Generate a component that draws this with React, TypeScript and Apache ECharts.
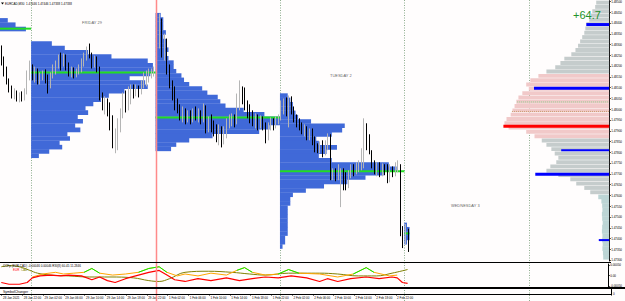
import React, { useEffect, useRef } from "react";
import * as echarts from "echarts";

const W = 625;
const H = 301;
const SLOTS = 235;
const ROW = 0.0002;
const LABEL_STEP = 8;
const BARS_PER_DAY = 48;

// [open, close, low, high]
const thursdayBars = [
  [1.48273, 1.48226, 1.48203, 1.48296], [1.48226, 1.48171, 1.48152, 1.48245], [1.48171, 1.48134, 1.48115, 1.48198],
  [1.48134, 1.48097, 1.48078, 1.48143], [1.48097, 1.48069, 1.4805, 1.4811], [1.48069, 1.48078, 1.48046, 1.48097],
  [1.48078, 1.48055, 1.48036, 1.48087], [1.48055, 1.48064, 1.48032, 1.48078], [1.48064, 1.4805, 1.48036, 1.48083],
  [1.4805, 1.48078, 1.48041, 1.48097], [1.48078, 1.48157, 1.48069, 1.4818], [1.48157, 1.48203, 1.48134, 1.48226],
];
const fridayBars = [
  [1.48189, 1.48161, 1.48134, 1.48208], [1.48161, 1.4818, 1.48124, 1.48198], [1.4818, 1.48134, 1.48115, 1.48189],
  [1.48134, 1.48152, 1.48115, 1.48171], [1.48152, 1.48171, 1.48134, 1.4818], [1.48171, 1.48143, 1.4812, 1.48185],
  [1.48143, 1.48124, 1.48073, 1.48161], [1.48124, 1.48161, 1.48097, 1.48171], [1.48161, 1.48189, 1.48143, 1.48208],
  [1.48189, 1.48208, 1.48161, 1.48226], [1.48208, 1.48236, 1.48189, 1.48254], [1.48236, 1.48217, 1.4818, 1.48263],
  [1.48217, 1.48245, 1.48198, 1.48259], [1.48245, 1.48198, 1.4818, 1.48254], [1.48198, 1.48171, 1.48152, 1.48217],
  [1.48171, 1.4818, 1.48148, 1.48198], [1.4818, 1.48161, 1.48143, 1.48194], [1.48161, 1.4818, 1.48148, 1.48189],
  [1.4818, 1.48189, 1.48161, 1.48208], [1.48189, 1.48217, 1.48171, 1.48236], [1.48217, 1.48245, 1.48198, 1.48263],
  [1.48245, 1.48273, 1.48226, 1.48291], [1.48273, 1.48254, 1.48236, 1.48305], [1.48254, 1.48208, 1.48189, 1.48263],
  [1.48208, 1.48236, 1.48194, 1.48249], [1.48236, 1.48189, 1.48171, 1.48245], [1.48189, 1.4806, 1.48041, 1.48198],
  [1.4806, 1.48023, 1.47995, 1.48078], [1.48023, 1.48041, 1.47976, 1.4806], [1.48041, 1.48004, 1.47967, 1.4805],
  [1.48004, 1.47958, 1.47902, 1.48032], [1.47958, 1.47856, 1.47819, 1.47972], [1.47856, 1.47893, 1.47796, 1.47911],
  [1.47893, 1.4793, 1.4781, 1.47958], [1.4793, 1.47985, 1.47893, 1.48004], [1.47985, 1.48041, 1.47958, 1.48078],
  [1.48041, 1.48023, 1.47985, 1.48087], [1.48023, 1.4806, 1.47995, 1.48106], [1.4806, 1.48078, 1.48023, 1.48115],
  [1.48078, 1.48069, 1.4805, 1.48115], [1.48069, 1.48097, 1.4806, 1.48115], [1.48097, 1.48078, 1.48055, 1.4811],
  [1.48078, 1.48115, 1.48069, 1.48134], [1.48115, 1.48134, 1.48097, 1.48171], [1.48134, 1.48143, 1.48106, 1.4818],
  [1.48143, 1.48161, 1.48124, 1.48189], [1.48161, 1.48171, 1.48143, 1.48189], [1.48171, 1.4818, 1.48152, 1.48198],
];
const mondayBars = [
  [1.48365, 1.48282, 1.48263, 1.48384], [1.48291, 1.48402, 1.48282, 1.48444], [1.48402, 1.48273, 1.4824, 1.48421],
  [1.48273, 1.48319, 1.48226, 1.48351], [1.48319, 1.4818, 1.48161, 1.48328], [1.4818, 1.48115, 1.48097, 1.48208],
  [1.48115, 1.48087, 1.48041, 1.48134], [1.48087, 1.48023, 1.47995, 1.48106], [1.48023, 1.48004, 1.47981, 1.4805],
  [1.48004, 1.47976, 1.47948, 1.48023], [1.47976, 1.47995, 1.47939, 1.48013], [1.47995, 1.47958, 1.4793, 1.48004],
  [1.47958, 1.47976, 1.47939, 1.47995], [1.47976, 1.47958, 1.4793, 1.47995], [1.47958, 1.47985, 1.47939, 1.48004],
  [1.47985, 1.47967, 1.47948, 1.48013], [1.47967, 1.47985, 1.47939, 1.48004], [1.47985, 1.47958, 1.4793, 1.47995],
  [1.47958, 1.48004, 1.47939, 1.48027], [1.48004, 1.47911, 1.47888, 1.48018], [1.47911, 1.47939, 1.47893, 1.47967],
  [1.47939, 1.47921, 1.47893, 1.47976], [1.47921, 1.47902, 1.47874, 1.47948], [1.47902, 1.47874, 1.47847, 1.4793],
  [1.47874, 1.47911, 1.47833, 1.4793], [1.47911, 1.47856, 1.47823, 1.47921], [1.47856, 1.47893, 1.47837, 1.47921],
  [1.47893, 1.4793, 1.47865, 1.47958], [1.4793, 1.47939, 1.47911, 1.47976], [1.47939, 1.47958, 1.47921, 1.47981],
  [1.47958, 1.47939, 1.47916, 1.47976], [1.47939, 1.48023, 1.4793, 1.48073], [1.48023, 1.48087, 1.47995, 1.48134],
  [1.48087, 1.4806, 1.48023, 1.48106], [1.4806, 1.48013, 1.47995, 1.48101], [1.48013, 1.47985, 1.47958, 1.48041],
  [1.47985, 1.47967, 1.47935, 1.48023], [1.47967, 1.47948, 1.47921, 1.47995], [1.47948, 1.47958, 1.47911, 1.47981],
  [1.47958, 1.4793, 1.47902, 1.47976], [1.4793, 1.47948, 1.47911, 1.47972], [1.47948, 1.47921, 1.47902, 1.47967],
  [1.47921, 1.47874, 1.47842, 1.47939], [1.47874, 1.47921, 1.47856, 1.47939], [1.47921, 1.47939, 1.47902, 1.47962],
  [1.47939, 1.47921, 1.47902, 1.47958], [1.47921, 1.47948, 1.47911, 1.47967], [1.47948, 1.47958, 1.4793, 1.47976],
];
const tuesdayBars = [
  [1.47958, 1.48004, 1.47948, 1.48041], [1.48004, 1.48023, 1.47976, 1.4805], [1.48023, 1.47985, 1.47967, 1.48055],
  [1.47985, 1.48041, 1.47916, 1.48064], [1.48041, 1.47995, 1.47976, 1.4806], [1.47995, 1.47958, 1.47939, 1.48013],
  [1.47958, 1.47939, 1.47916, 1.47976], [1.47939, 1.47921, 1.47902, 1.47958], [1.47921, 1.47902, 1.47884, 1.47939],
  [1.47902, 1.47911, 1.47874, 1.4793], [1.47911, 1.47884, 1.47856, 1.47921], [1.47884, 1.47893, 1.47856, 1.47911],
  [1.47893, 1.47856, 1.47833, 1.47911], [1.47856, 1.47828, 1.478, 1.47874], [1.47828, 1.4781, 1.47796, 1.47842],
  [1.4781, 1.47828, 1.47796, 1.47851], [1.47828, 1.478, 1.47777, 1.47856], [1.478, 1.47833, 1.47786, 1.47856],
  [1.47833, 1.47856, 1.4781, 1.47888], [1.47856, 1.47689, 1.47671, 1.47884], [1.47689, 1.47708, 1.47671, 1.47726],
  [1.47708, 1.47689, 1.47666, 1.47726], [1.47689, 1.47708, 1.47671, 1.47745], [1.47671, 1.47708, 1.47546, 1.47726],
  [1.47708, 1.4768, 1.47624, 1.47726], [1.4768, 1.47652, 1.47624, 1.47708], [1.47652, 1.47689, 1.47634, 1.47717],
  [1.47689, 1.47717, 1.4768, 1.47745], [1.47717, 1.47708, 1.47689, 1.47745], [1.47708, 1.47726, 1.47698, 1.47754],
  [1.47726, 1.47735, 1.47708, 1.47763], [1.47735, 1.4781, 1.47717, 1.47819], [1.4781, 1.47902, 1.47726, 1.47958],
  [1.47902, 1.47856, 1.4781, 1.47935], [1.47856, 1.478, 1.47791, 1.47884], [1.478, 1.47735, 1.47726, 1.4781],
  [1.47735, 1.47717, 1.47698, 1.47763], [1.47717, 1.47735, 1.47689, 1.47754], [1.47735, 1.47708, 1.47685, 1.47754],
  [1.47708, 1.47726, 1.47689, 1.47749], [1.47726, 1.47717, 1.47694, 1.47745], [1.47717, 1.4768, 1.47657, 1.47745],
  [1.4768, 1.47717, 1.47661, 1.47745], [1.47717, 1.47708, 1.47685, 1.47735], [1.47708, 1.47726, 1.47689, 1.47754],
  [1.47726, 1.47735, 1.47708, 1.47763], [1.47735, 1.4743, 1.47411, 1.47745], [1.4743, 1.47411, 1.47356, 1.47458],
];
const wednesdayBars = [
  [1.47411, 1.47439, 1.47374, 1.47467], [1.47446, 1.47338, 1.47338, 1.47446],
];

// session volume profiles: [price, length in bars]
const thursdayProfile = [[1.48413, 3], [1.48393, 6], [1.48373, 10]];
const fridayProfile = [
  [1.48305, 8], [1.48285, 13], [1.48265, 22], [1.48245, 31], [1.48225, 45], [1.48205, 47], [1.48185, 47],
  [1.48165, 46], [1.48145, 38], [1.48125, 44], [1.48105, 45], [1.48085, 36], [1.48065, 30], [1.48045, 27],
  [1.48025, 24], [1.48005, 21], [1.47985, 22], [1.47965, 18], [1.47945, 20], [1.47925, 17], [1.47905, 19],
  [1.47885, 14], [1.47865, 15], [1.47845, 11], [1.47825, 12], [1.47805, 7], [1.47785, 3],
];
const mondayProfile = [
  [1.48437, 2], [1.48417, 3], [1.48397, 3], [1.48377, 3], [1.48357, 4], [1.48337, 3], [1.48317, 4], [1.48297, 4],
  [1.48277, 5], [1.48257, 4], [1.48237, 5], [1.48217, 7], [1.48197, 7], [1.48177, 8], [1.48157, 10], [1.48137, 11],
  [1.48117, 13], [1.48097, 18], [1.48077, 20], [1.48057, 24], [1.48037, 25], [1.48017, 27], [1.47997, 34],
  [1.47977, 42], [1.47957, 48], [1.47937, 48], [1.47917, 44], [1.47897, 40], [1.47877, 22], [1.47857, 13],
  [1.47837, 8], [1.47817, 6],
];
const tuesdayProfile = [
  [1.48064, 3], [1.48044, 4], [1.48024, 5], [1.48004, 5], [1.47984, 6], [1.47964, 7], [1.47944, 12], [1.47924, 25],
  [1.47904, 24], [1.47884, 20], [1.47864, 14], [1.47844, 15], [1.47824, 22], [1.47804, 18], [1.47784, 15],
  [1.47764, 20], [1.47744, 42], [1.47724, 45], [1.47704, 40], [1.47684, 33], [1.47664, 26], [1.47644, 17],
  [1.47624, 10], [1.47604, 5], [1.47584, 4], [1.47564, 4], [1.47544, 3], [1.47524, 3], [1.47504, 3], [1.47484, 3],
  [1.47464, 3], [1.47444, 3], [1.47424, 3], [1.47404, 2], [1.47384, 2], [1.47364, 1],
];
const wednesdayProfile = [[1.47464, 1], [1.47444, 2], [1.47424, 2], [1.47404, 2], [1.47384, 1]];
const sessionPocs = [1.48374, 1.48171, 1.47962, 1.47712, 1.47424];

// right-hand composite profile: [price, length in bars]
const rightProfile = [
  [1.48494, 5], [1.48474, 5.4], [1.48454, 6.5], [1.48434, 7], [1.48414, 7.7], [1.48394, 8.8], [1.48374, 9.2],
  [1.48354, 9.6], [1.48334, 10.4], [1.48314, 11.2], [1.48294, 12], [1.48274, 13], [1.48254, 14.6], [1.48234, 17.3],
  [1.48214, 18.8], [1.48194, 20.8], [1.48174, 24.2], [1.48154, 27.3], [1.48134, 30.4], [1.48114, 32], [1.48094, 31],
  [1.48074, 33.5], [1.48054, 35], [1.48034, 35.8], [1.48014, 36.5], [1.47994, 37.3], [1.47974, 38], [1.47954, 39.6],
  [1.47934, 40.4], [1.47914, 38.8], [1.47894, 32], [1.47874, 28.8], [1.47854, 26], [1.47834, 24.2], [1.47814, 22.3],
  [1.47794, 21], [1.47774, 19.6], [1.47754, 20.4], [1.47734, 22.7], [1.47714, 24.2], [1.47694, 19.6], [1.47674, 15],
  [1.47654, 12.7], [1.47634, 9.6], [1.47614, 7.3], [1.47594, 4.2], [1.47574, 3], [1.47554, 2.7], [1.47534, 2.6],
  [1.47514, 2.8], [1.47494, 2.7], [1.47474, 2.5], [1.47454, 2.7], [1.47434, 2.8], [1.47414, 2.6], [1.47394, 2.7],
  [1.47374, 2.5], [1.47354, 2.6], [1.47334, 2.4], [1.47314, 2.3],
];
const rightValueArea = [1.47856, 1.48161];
const rightTailBelow = 1.476;
const rightBlueLevels = [[1.48393, 8.8], [1.48097, 29], [1.47698, 28.5]];
const rightThinBlueLevels = [[1.4781, 18.5], [1.47393, 4]];
const rightRedLevels = [[1.47921, 40.8]];
const rightDottedGreen = [[1.48034, 35.5]];
const rightDottedTan = [[1.4799, 37.5]];

const orderLevels = [
  { price: 1.47485, text: "#41 sell 0.10" },
  { price: 1.47425, text: "#42 sell 0.10" },
];
const bidPrice = 1.47338;

const priceTicks = [
  1.473, 1.4735, 1.474, 1.4745, 1.475, 1.4755, 1.476, 1.4765, 1.477, 1.4775, 1.478, 1.4785, 1.479,
  1.4795, 1.48, 1.4805, 1.481, 1.4815, 1.482, 1.4825, 1.483, 1.4835, 1.484, 1.4845, 1.485,
];
const indicatorTicks = [0.0005, 0, -0.0005];
const timeLabels = [
  "28 Jan 2021", "28 Jan 22:00", "29 Jan 02:00", "29 Jan 06:00", "29 Jan 10:00", "29 Jan 14:00", "29 Jan 18:00",
  "29 Jan 22:00", "1 Feb 02:00", "1 Feb 06:00", "1 Feb 10:00", "1 Feb 14:00", "1 Feb 18:00", "1 Feb 22:00",
  "2 Feb 02:00", "2 Feb 06:00", "2 Feb 10:00", "2 Feb 14:00", "2 Feb 18:00", "2 Feb 22:00",
];
const dayLabels = [
  { text: "FRIDAY 29", bar: 35, price: 1.48402 },
  { text: "TUESDAY 2", bar: 131, price: 1.48157 },
  { text: "WEDNESDAY 3", bar: 179, price: 1.47555 },
];

// indicator lines: [bar index, value]
const oliveLine = [
  [0, 0.00041], [3, 0.00046], [7, 0.00041], [11, 0.00024], [14, 0.00011], [19, 0.00002], [26, -0.00002],
  [34, -0.00007], [42, -0.00007], [51, -0.00011], [57, -0.00024], [61, -0.00028], [65, -0.00015], [71, 0.00015],
  [80, 0.0002], [89, 0.00015], [96, 0.00007], [102, 0.00002], [111, 0.00011], [123, 0.00011], [130, 0.00007],
  [138, -0.00002], [145, -0.00002], [151, 0.00011], [157, 0.00028],
];
const redLine = [
  [0, -0.00033], [3, -0.00041], [7, -0.00041], [10, -0.00033], [12, -0.00011], [15, -0.00002], [19, 0.00002],
  [23, -0.00002], [26, 0.00002], [31, -0.00002], [35, -0.0002], [38, -0.00007], [41, -0.00024], [44, -0.00033],
  [48, -0.00015], [53, 0.00002], [57, 0.00015], [61, 0.00024], [64, 0.00002], [67, -0.0002], [71, -0.00028],
  [76, -0.00015], [81, -0.00024], [87, -0.00011], [92, -0.00024], [97, -0.00015], [102, -0.00007], [107, -0.00011],
  [112, -0.00002], [118, -0.00011], [123, -0.00028], [126, -0.00015], [130, -0.00028], [135, -0.00015],
  [141, -0.00007], [146, -0.00015], [151, -0.00007], [153, -0.00011], [155, -0.00033], [157, -0.00037],
];
const orangeLine = [
  [12, -0.00007], [16, 0.00007], [21, 0.00015], [24, 0.00007], [28, 0.00011], [32, 0.00015], [35, 0.00033],
  [38, 0.00011], [43, 0.00002], [48, 0.00007], [53, 0.00015], [57, 0.00033], [61, 0.00041], [64, 0.00015],
  [68, -0.00002], [71, 0.00007], [76, -0.00002], [81, 0.00011], [87, 0.00002], [91, 0.00024], [94, 0.00037],
  [97, 0.00015], [102, 0.00002], [107, 0.00007], [111, 0.00028], [115, 0.00011], [123, 0.00007], [130, -0.00007],
  [136, 0.00007], [141, 0.00037], [144, 0.00015], [150, -0.00002], [153, 0.00002],
];
const greenSpans = [[32, 38], [53, 64], [91, 97], [107, 115], [136, 144]];

const KIND_STYLE: Record<number, any> = {
  0: { color: "#4069d8", gap: -0.3 },
  1: { color: "#c5cccc", gap: 0.4, right: true },
  2: { color: "#f1c9c9", gap: 0.4, right: true },
  3: { color: "#bcd5d5", gap: -0.3, right: true },
  4: { color: "#22dd22", h: 2 },
  5: { color: "#0000ff", h: 3, right: true },
  6: { color: "#ff0000", h: 3, right: true },
  7: { color: "#0000ff", h: 2, right: true },
  8: { color: "#8fcf8f", dash: [1, 1], right: true },
  9: { color: "#c89a6a", dash: [1, 1], right: true },
};

export default function App() {
  const ref = useRef<HTMLDivElement>(null);

  useEffect(() => {
    const chart = echarts.init(ref.current!, null, { renderer: "svg", width: W, height: H });
    const sessions = [
      { bars: thursdayBars, profile: thursdayProfile },
      { bars: fridayBars, profile: fridayProfile },
      { bars: mondayBars, profile: mondayProfile },
      { bars: tuesdayBars, profile: tuesdayProfile },
      { bars: wednesdayBars, profile: wednesdayProfile },
    ];
    const cats = Array.from({ length: SLOTS }, (_, i) => String(i));
    const bars: number[][] = [];
    const items: number[][] = [];
    const starts: number[] = [];
    sessions.forEach((s) => {
      starts.push(bars.length);
      s.profile.forEach(([p, len]) => items.push([bars.length, p, len, 0]));
      bars.push(...s.bars);
    });
    sessions.forEach((s, k) => items.push([starts[k], sessionPocs[k], s.bars.length, 4]));
    rightProfile.forEach(([p, len]) => {
      const kind = p < rightTailBelow ? 3 : p >= rightValueArea[0] && p <= rightValueArea[1] ? 2 : 1;
      items.push([0, p, len, kind]);
    });
    rightDottedGreen.forEach(([p, len]) => items.push([0, p, len, 8]));
    rightDottedTan.forEach(([p, len]) => items.push([0, p, len, 9]));
    rightBlueLevels.forEach(([p, len]) => items.push([0, p, len, 5]));
    rightThinBlueLevels.forEach(([p, len]) => items.push([0, p, len, 7]));
    rightRedLevels.forEach(([p, len]) => items.push([0, p, len, 6]));

    const renderHBar = (params: any, api: any) => {
      const start = api.value(0);
      const price = api.value(1);
      const len = api.value(2);
      const st = KIND_STYLE[api.value(3)];
      const cs = params.coordSys;
      const slot = cs.width / SLOTS;
      const pt = api.coord([start, price]);
      const w = len * slot;
      const x0 = st.right ? cs.x + cs.width - w : pt[0] - slot / 2;
      if (st.dash) {
        return {
          type: "line",
          shape: { x1: x0, y1: pt[1], x2: x0 + w, y2: pt[1] },
          style: { stroke: st.color, lineWidth: 1, lineDash: st.dash },
        };
      }
      if (st.h != null) {
        return {
          type: "rect",
          shape: { x: x0, y: pt[1] - st.h / 2, width: w, height: st.h },
          style: { fill: st.color },
        };
      }
      const top = api.coord([start, price + ROW / 2])[1];
      const bottom = api.coord([start, price - ROW / 2])[1];
      return {
        type: "rect",
        shape: { x: x0, y: top, width: w, height: Math.max(0.5, bottom - top - st.gap) },
        style: { fill: st.color },
      };
    };

    const isLabel = (i: number) => i % LABEL_STEP === 0 && i / LABEL_STEP < timeLabels.length;
    const inSpan = (sp: number[]) => orangeLine.filter(([i]) => i >= sp[0] && i <= sp[1]);

    const option: any = {
      animation: false,
      backgroundColor: "#fffdfd",
      textStyle: { fontFamily: "Liberation Sans, Arial, sans-serif" },
      grid: [
        { left: 0, top: 0, width: 611, height: 261 },
        { left: 0, top: 264, width: 611, height: 23 },
        { left: 0, top: 289, width: 611, height: 5 },
      ],
      xAxis: [0, 1, 2].map((g) => ({
        type: "category",
        gridIndex: g,
        data: cats,
        boundaryGap: true,
        axisLine: { show: g === 2, lineStyle: { color: "#000", width: 1 } },
        axisTick:
          g === 2
            ? { show: true, interval: isLabel, length: 1.5, lineStyle: { color: "#000" } }
            : { show: false },
        axisLabel:
          g === 2
            ? {
                show: true,
                interval: isLabel,
                formatter: (_v: string, i: number) => timeLabels[i / LABEL_STEP],
                align: "left",
                fontSize: 3,
                margin: 2,
                color: "#000",
              }
            : { show: false },
        splitLine: { show: false },
      })),
      yAxis: [
        {
          gridIndex: 0,
          type: "value",
          position: "right",
          min: 1.47296,
          max: 1.48504,
          axisLine: { show: true, lineStyle: { color: "#000" } },
          axisTick: { show: true, length: 1.5, customValues: priceTicks, lineStyle: { color: "#000" } },
          axisLabel: {
            customValues: priceTicks,
            formatter: (v: number) => v.toFixed(5),
            fontSize: 3,
            margin: 2,
            color: "#000",
          },
          splitLine: { show: false },
        },
        {
          gridIndex: 1,
          type: "value",
          position: "right",
          min: -0.00054,
          max: 0.00054,
          axisLine: { show: true, lineStyle: { color: "#000" } },
          axisTick: { show: true, length: 1.5, customValues: indicatorTicks, lineStyle: { color: "#000" } },
          axisLabel: {
            customValues: indicatorTicks,
            formatter: (v: number) => (v === 0 ? "0.00" : v.toFixed(5)),
            fontSize: 3,
            margin: 2,
            color: "#000",
          },
          splitLine: { show: false },
        },
        {
          gridIndex: 2,
          type: "value",
          position: "right",
          min: 0,
          max: 1,
          axisLine: { show: true, lineStyle: { color: "#000" } },
          axisTick: { show: false },
          axisLabel: { customValues: [0], formatter: () => "0", fontSize: 3, margin: 2, color: "#000" },
          splitLine: { show: false },
        },
      ],
      series: [
        {
          type: "custom",
          xAxisIndex: 0,
          yAxisIndex: 0,
          z: 1,
          silent: true,
          renderItem: renderHBar,
          data: items,
        },
        {
          type: "candlestick",
          xAxisIndex: 0,
          yAxisIndex: 0,
          z: 3,
          barWidth: 1.2,
          data: bars,
          itemStyle: {
            color: "#b5b5b5",
            color0: "#000000",
            borderColor: "#b5b5b5",
            borderColor0: "#000000",
            borderWidth: 1,
          },
          markLine: {
            symbol: ["none", "none"],
            silent: true,
            data: [
              ...orderLevels.map((o) => ({
                yAxis: o.price,
                lineStyle: { color: "#78c078", width: 1, type: [3, 2, 1, 2] },
                label: {
                  show: true,
                  position: "insideStartTop",
                  formatter: o.text,
                  fontSize: 3,
                  color: "#444",
                  distance: 1,
                },
              })),
              {
                yAxis: bidPrice,
                lineStyle: { color: "#c4c4c4", width: 1, type: "solid" },
                label: {
                  show: true,
                  position: "end",
                  formatter: bidPrice.toFixed(5),
                  backgroundColor: "#000",
                  color: "#fff",
                  fontSize: 3,
                  padding: [1, 1, 0.5, 1],
                  distance: 1,
                },
              },
            ],
          },
        },
        {
          type: "scatter",
          xAxisIndex: 0,
          yAxisIndex: 0,
          z: 4,
          symbolSize: 0,
          silent: true,
          data: dayLabels.map((d) => ({ name: d.text, value: [d.bar, d.price] })),
          label: { show: true, position: "inside", formatter: "{b}", fontSize: 4, color: "#333" },
        },
        {
          type: "line",
          xAxisIndex: 1,
          yAxisIndex: 1,
          data: oliveLine,
          smooth: 0.4,
          showSymbol: false,
          lineStyle: { color: "#808000", width: 1 },
        },
        {
          type: "line",
          xAxisIndex: 1,
          yAxisIndex: 1,
          data: orangeLine,
          showSymbol: false,
          lineStyle: { color: "#ffa500", width: 1 },
        },
        ...greenSpans.map((sp) => ({
          type: "line",
          xAxisIndex: 1,
          yAxisIndex: 1,
          data: inSpan(sp),
          showSymbol: false,
          lineStyle: { color: "#00ee00", width: 1 },
        })),
        {
          type: "line",
          xAxisIndex: 1,
          yAxisIndex: 1,
          data: redLine,
          showSymbol: false,
          lineStyle: { color: "#ff0000", width: 1.2 },
        },
        { type: "line", xAxisIndex: 2, yAxisIndex: 2, data: [] },
      ],
    };
    chart.setOption(option);

    const slot = 611 / SLOTS;
    const sepIdx = [...starts.slice(1), starts[starts.length - 1] + BARS_PER_DAY];
    const weekStart = starts[2];
    const graphics: any[] = sepIdx.map((idx) => {
      const cx = chart.convertToPixel({ xAxisIndex: 0 }, String(idx)) as number;
      const x = Math.round(cx - slot / 2) + 0.5;
      const red = idx === weekStart;
      return {
        type: "line",
        z: red ? 50 : 0,
        shape: { x1: x, y1: 0, x2: x, y2: H },
        style: red
          ? { stroke: "#ff8a8a", lineWidth: 1.5 }
          : { stroke: "#8fae8f", lineWidth: 1, lineDash: [1, 1.5] },
      };
    });
    graphics.push(
      { type: "line", z: 60, shape: { x1: 0, y1: 262.5, x2: 611, y2: 262.5 }, style: { stroke: "#000", lineWidth: 1 } },
      { type: "line", z: 60, shape: { x1: 0, y1: 288, x2: W, y2: 288 }, style: { stroke: "#000", lineWidth: 2 } },
      { type: "line", z: 60, shape: { x1: 0, y1: 294.5, x2: 611, y2: 294.5 }, style: { stroke: "#000", lineWidth: 1 } },
      { type: "polygon", z: 60, shape: { points: [[1, 2.5], [4, 2.5], [2.5, 4.5]] }, style: { fill: "#000" } },
      {
        type: "text",
        z: 60,
        x: 5,
        y: 3.6,
        style: {
          text: "EURCAD,M30  1.47446 1.47446 1.47338 1.47338",
          fontSize: 3,
          fill: "#000",
          verticalAlign: "middle",
          fontFamily: "Liberation Sans, Arial, sans-serif",
        },
      },
      {
        type: "text",
        z: 60,
        x: 587,
        y: 15,
        style: {
          text: "+64.7",
          fontSize: 11,
          fill: "#23922b",
          align: "center",
          verticalAlign: "middle",
          fontFamily: "Liberation Sans, Arial, sans-serif",
        },
      },
      {
        type: "text",
        z: 60,
        x: 3,
        y: 265.8,
        style: {
          text: "CCFp (EUR,CAD) -0.00046 0.00046 RSI(8) 60.45 11.2846",
          fontSize: 3,
          fill: "#000",
          verticalAlign: "middle",
          fontFamily: "Liberation Sans, Arial, sans-serif",
        },
      },
      {
        type: "text",
        z: 60,
        x: 13,
        y: 269.5,
        style: { text: "EUR", fontSize: 3, fill: "#ff0000", verticalAlign: "middle" },
      },
      {
        type: "text",
        z: 60,
        x: 21,
        y: 269.5,
        style: { text: "CAD", fontSize: 3, fill: "#808000", verticalAlign: "middle" },
      },
      {
        type: "text",
        z: 60,
        x: 3,
        y: 291.5,
        style: {
          text: "SymbolChanger",
          fontSize: 3.5,
          fill: "#000",
          verticalAlign: "middle",
          fontFamily: "Liberation Sans, Arial, sans-serif",
        },
      }
    );
    chart.setOption({ graphic: graphics });

    return () => chart.dispose();
  }, []);

  return <div ref={ref} style={{ position: "fixed", left: 0, top: 0, width: W, height: H }} />;
}
